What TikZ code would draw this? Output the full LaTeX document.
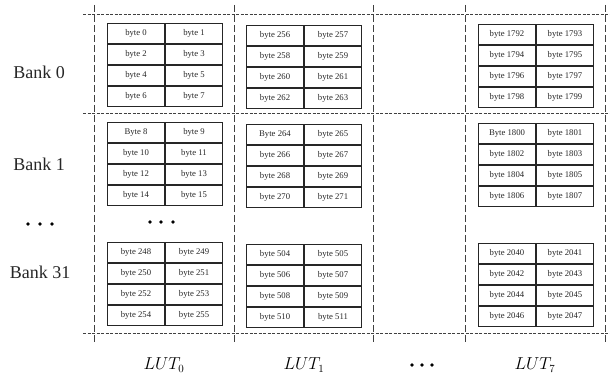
\documentclass[tikz,border=0pt]{standalone}
\usepackage{fontspec}
\setmainfont{Liberation Serif}
\begin{document}
\begin{tikzpicture}[x=1pt,y=-1pt,
  cell/.style={draw=black!85, line width=1pt, minimum width=57pt, minimum height=20pt,
    inner sep=0pt, anchor=north west, font=\fontsize{8.7}{10}\selectfont, text=black!85},
  hline/.style={draw=black!75, line width=1pt, dash pattern=on 3pt off 1.5pt},
  vline/.style={draw=black!75, line width=1pt, dash pattern=on 7pt off 3pt},
  bank/.style={font=\fontsize{18}{20}\selectfont, text=black!85},
  lut/.style={font=\fontsize{16}{19}\selectfont},
  dotn/.style={circle, fill=black, inner sep=0pt, minimum size=3.8pt}]
\useasboundingbox (0,0) rectangle (610,379);
% dashed grid
\foreach \y [count=\i] in {15,114,333} {
  \coordinate (hl\i) at (83,\y);
  \coordinate (hr\i) at (610,\y);
  \draw[hline] (hl\i) -- (hr\i);
}
\foreach \x [count=\i] in {94,234,373,465,605} {
  \coordinate (vt\i) at (\x,5);
  \coordinate (vb\i) at (\x,345);
  \draw[vline] (vt\i) -- (vb\i);
}
% byte cells
\foreach \k/\lx/\dy in {0/107/0, 1/246/2, 7/478/1} {
  \foreach \b/\ty in {0/23, 1/122, 31/242} {
    \foreach \r in {0,...,3} {
      \foreach \j in {0,1} {
        \pgfmathtruncatemacro\n{256*\k+8*\b+2*\r+\j}
        \pgfmathsetmacro\xx{\lx+58*\j}
        \pgfmathsetmacro\yy{\ty+\dy+21*\r}
        \pgfmathtruncatemacro\cap{(\b==1)&&(\r==0)&&(\j==0)}
        \node[cell] (c\k-\b-\r-\j) at (\xx,\yy) {\ifnum\cap=1 B\else b\fi yte \n};
      }
    }
  }
}
% bank labels
\node[bank] (bank0) at (39,72) {Bank 0};
\node[bank] (bank1) at (39,164) {Bank 1};
\node[bank] (bank31) at (40,272) {Bank 31};
% dots
\node[dotn] (ld1) at (28,224) {};
\node[dotn] (ld2) at (40,224) {};
\node[dotn] (ld3) at (52,224) {};
\node[dotn] (md1) at (150,222) {};
\node[dotn] (md2) at (161,222) {};
\node[dotn] (md3) at (173,222) {};
\node[dotn] (bd1) at (412,365) {};
\node[dotn] (bd2) at (422,365) {};
\node[dotn] (bd3) at (432,365) {};
% LUT labels
\node[lut] (lut0) at (164,365) {$LUT_0$};
\node[lut] (lut1) at (304,365) {$LUT_1$};
\node[lut] (lut7) at (535,365) {$LUT_7$};
\end{tikzpicture}
\end{document}
